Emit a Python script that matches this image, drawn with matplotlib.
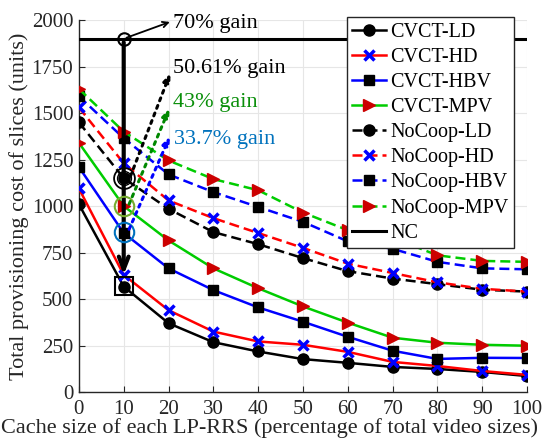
import matplotlib
matplotlib.use("Agg")
import matplotlib.pyplot as plt

plt.rcParams['font.family'] = ['Liberation Serif', 'DejaVu Serif']
plt.rcParams['mathtext.fontset'] = 'stix'

cache = [0, 10, 20, 30, 40, 50, 60, 70, 80, 90, 100]

cvct_ld = [1010, 567, 370, 268, 218, 177, 157, 135, 124, 108, 86]
cvct_hd = [1095, 630, 440, 325, 272, 254, 216, 162, 140, 113, 92]
cvct_hbv = [1210, 855, 665, 548, 455, 378, 297, 222, 178, 184, 183]
cvct_mpv = [1340, 1000, 815, 665, 558, 460, 373, 292, 265, 254, 249]

nocoop_ld = [1450, 1150, 985, 860, 795, 720, 650, 610, 580, 550, 540]
nocoop_hd = [1530, 1230, 1030, 935, 855, 775, 690, 640, 590, 555, 540]
nocoop_hbv = [1590, 1365, 1170, 1075, 995, 915, 810, 770, 700, 665, 660]
nocoop_mpv = [1630, 1400, 1245, 1145, 1085, 965, 870, 830, 735, 705, 700]

nc_value = 1900

labels = ["CVCT-LD", "CVCT-HD", "CVCT-HBV", "CVCT-MPV",
          "NoCoop-LD", "NoCoop-HD", "NoCoop-HBV", "NoCoop-MPV", "NC"]

gain_texts = ["70% gain", "50.61% gain", "43% gain", "33.7% gain"]

fig = plt.figure(figsize=(5.44, 4.46), dpi=100)
ax = fig.add_axes([0.145, 0.121, 0.824, 0.834])

RED = '#ff0000'
BLUE = '#0000ff'
GREEN = '#00cc00'
MRED = '#cc0000'
lw = 1.8
ms = 8
dash = (4.0, 2.0)

series = [
    (cvct_ld, 'black', 'o', 'black', '-'),
    (cvct_hd, RED, 'x', BLUE, '-'),
    (cvct_hbv, BLUE, 's', 'black', '-'),
    (cvct_mpv, GREEN, '>', MRED, '-'),
    (nocoop_ld, 'black', 'o', 'black', '--'),
    (nocoop_hd, RED, 'x', BLUE, '--'),
    (nocoop_hbv, BLUE, 's', 'black', '--'),
    (nocoop_mpv, GREEN, '>', MRED, '--'),
]

handles = []
for (vals, col, mk, mcol, ls), lab in zip(series, labels[:8]):
    kw = dict(color=col, lw=lw, marker=mk, markersize=ms if mk != 's' else 7,
              markerfacecolor=mcol, markeredgecolor=mcol, label=lab, zorder=3)
    if mk == 'x':
        kw['markeredgewidth'] = 2.5
        kw['markersize'] = 7
    if ls == '--':
        h, = ax.plot(cache, vals, linestyle='--', dashes=dash, **kw)
    else:
        h, = ax.plot(cache, vals, linestyle='-', **kw)
    handles.append(h)

h_nc = ax.axhline(nc_value, color='black', lw=2.2, label=labels[8], zorder=3)
handles.append(h_nc)

# annotations
ax.plot([10], [nc_value], marker='o', markersize=9, markerfacecolor='none',
        markeredgecolor='black', markeredgewidth=1.5, zorder=5)
ax.annotate('', xy=(10, 630), xytext=(10, nc_value - 20),
            arrowprops=dict(arrowstyle='->,head_length=0.9,head_width=0.35',
                            lw=3, color='black', shrinkA=0, shrinkB=0), zorder=4)
ax.plot([10], [570], marker='s', markersize=13, markerfacecolor='none',
        markeredgecolor='black', markeredgewidth=1.5, zorder=5)

ax.annotate('', xy=(20.3, 1990), xytext=(10.6, 1905),
            arrowprops=dict(arrowstyle='->', lw=1.3, color='black',
                            shrinkA=0, shrinkB=0), zorder=5)
ax.text(21.0, 1980, gain_texts[0], fontsize=16, color='black', va='center', ha='left')

# dashed circle for NoCoop-LD at 10
ax.plot([10], [1150], marker='o', markersize=15, markerfacecolor='none',
        markeredgecolor='black', markeredgewidth=1.3, linestyle='none', zorder=5)
ax.plot([10], [1150], marker='o', markersize=10, markerfacecolor='none',
        markeredgecolor='black', markeredgewidth=1.0, linestyle='none', zorder=5)
ax.annotate('', xy=(20.4, 1715), xytext=(11.5, 1160),
            arrowprops=dict(arrowstyle='-|>,head_length=0.5,head_width=0.2', lw=2.2,
                            linestyle=':', color='black', shrinkA=0, shrinkB=0), zorder=5)
ax.text(21.0, 1740, gain_texts[1], fontsize=16, color='black', va='center', ha='left')

ax.plot([10], [1000], marker='o', markersize=14, markerfacecolor='none',
        markeredgecolor='#77ac30', markeredgewidth=1.5, zorder=5)
ax.annotate('', xy=(20.2, 1525), xytext=(11.2, 1010),
            arrowprops=dict(arrowstyle='-|>,head_length=0.5,head_width=0.2', lw=2.2,
                            linestyle=':', color='#008800', shrinkA=0, shrinkB=0), zorder=5)
ax.text(21.0, 1555, gain_texts[2], fontsize=16, color='#0a8f0a', va='center', ha='left')

ax.plot([10], [860], marker='o', markersize=14, markerfacecolor='none',
        markeredgecolor='#0072bd', markeredgewidth=1.5, zorder=5)
ax.annotate('', xy=(20.3, 1375), xytext=(11.2, 875),
            arrowprops=dict(arrowstyle='-|>,head_length=0.5,head_width=0.2', lw=2.2,
                            linestyle=':', color='#0000ff', shrinkA=0, shrinkB=0), zorder=5)
ax.text(21.3, 1360, gain_texts[3], fontsize=16, color='#0072bd', va='center', ha='left')

ax.set_xlim(0, 100)
ax.set_ylim(0, 2000)
ax.set_xticks(cache)
ax.set_yticks(range(0, 2001, 250))
ax.grid(True, color='#e6e6e6', lw=0.8)
ax.set_axisbelow(True)
for s in ['top', 'right']:
    ax.spines[s].set_visible(False)
for s in ['left', 'bottom']:
    ax.spines[s].set_color('#262626')
    ax.spines[s].set_linewidth(1.0)
ax.tick_params(labelsize=15, colors='#262626', length=4, direction='in')
ax.tick_params(axis='x', pad=6)
ax.tick_params(axis='y', pad=4)
ax.set_xlabel("Cache size of each LP-RRS (percentage of total video sizes)",
              fontsize=16, color='#262626')
ax.xaxis.set_label_coords(0.426, -0.07)
ax.set_ylabel("Total provisioning cost of slices (units)", fontsize=16,
              color='#262626', labelpad=2)

leg = ax.legend(handles=handles, loc='upper right', bbox_to_anchor=(0.97, 1.007),
                fontsize=14.5, frameon=True, fancybox=False, framealpha=1,
                edgecolor='#262626', handlelength=1.7, labelspacing=0.3,
                borderpad=0.25, handletextpad=0.2, borderaxespad=0)
leg.get_frame().set_linewidth(1.0)
leg.set_zorder(10)

fig.savefig('out.png', dpi=100)
